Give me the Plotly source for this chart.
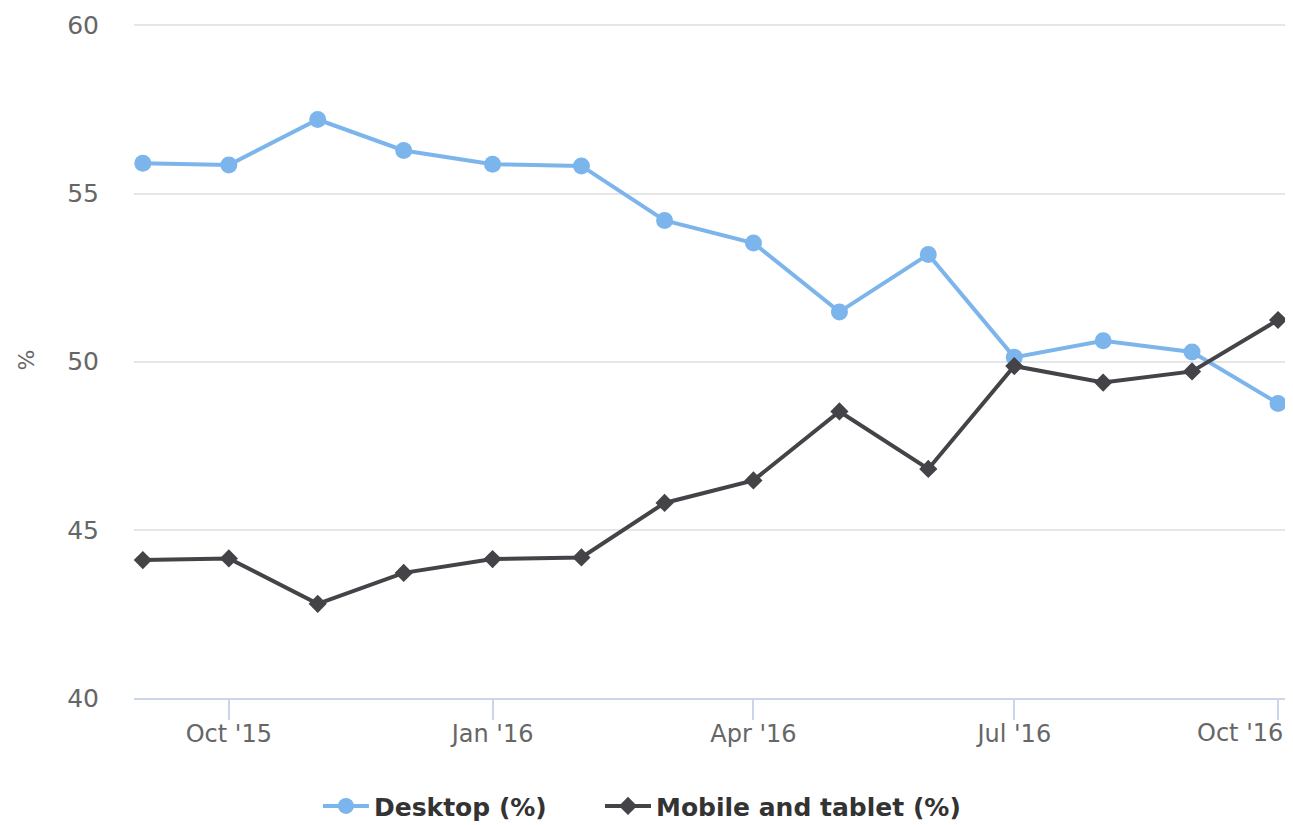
import plotly.graph_objects as go

months = ["2015-09-01", "2015-10-01", "2015-11-01", "2015-12-01", "2016-01-01",
          "2016-02-01", "2016-03-01", "2016-04-01", "2016-05-01", "2016-06-01",
          "2016-07-01", "2016-08-01", "2016-09-01", "2016-10-01"]
desktop = [55.9, 55.85, 57.2, 56.28, 55.87, 55.82, 54.2, 53.53, 51.48, 53.19,
           50.13, 50.62, 50.29, 48.76]
mobile = [44.1, 44.15, 42.8, 43.72, 44.13, 44.18, 45.8, 46.47, 48.52, 46.81,
          49.87, 49.38, 49.71, 51.24]
tick_dates = ["2015-10-01", "2016-01-01", "2016-04-01", "2016-07-01", "2016-10-01"]
tick_labels = ["Oct '15", "Jan '16", "Apr '16", "Jul '16", "Oct '16"]

FONT = "DejaVu Sans"
# the last label is drawn as an annotation pushed left to stay inside the chart
tick_text = tick_labels[:-1] + [""]

fig = go.Figure()
fig.add_trace(go.Scatter(
    x=months, y=desktop, name="Desktop (%)", mode="lines+markers",
    line=dict(color="#7cb5ec", width=4),
    marker=dict(symbol="circle", size=17, color="#7cb5ec"),
    cliponaxis=False, legend="legend",
))
fig.add_trace(go.Scatter(
    x=months, y=mobile, name="Mobile and tablet (%)", mode="lines+markers",
    line=dict(color="#434348", width=4),
    marker=dict(symbol="diamond", size=14, color="#434348"),
    cliponaxis=False, legend="legend2",
))

fig.add_annotation(
    x=tick_dates[-1], xref="x", y=0, yref="paper",
    text=tick_labels[-1], showarrow=False,
    xanchor="right", xshift=7, yanchor="middle", yshift=-35,
    font=dict(family=FONT, size=24, color="#666666"),
)

legend_common = dict(
    orientation="h", xref="container", yref="container",
    xanchor="left", y=0.023, yanchor="middle", itemwidth=46,
    font=dict(family=FONT, size=25, color="#333333", weight="bold"),
)

fig.update_layout(
    width=1285, height=817,
    margin=dict(l=126, r=1, t=14, b=127),
    paper_bgcolor="white", plot_bgcolor="white",
    font=dict(family=FONT, color="#666666"),
    showlegend=True,
    legend=dict(x=0.2412, **legend_common),
    legend2=dict(x=0.4607, **legend_common),
    xaxis=dict(
        type="date",
        range=["2015-08-28 22:00", "2016-10-05 21:00"],
        tickvals=tick_dates, ticktext=tick_text,
        showgrid=False, zeroline=False,
        showline=True, linecolor="#ccd6eb", linewidth=2,
        ticks="outside", ticklen=20, tickwidth=2, tickcolor="#ccd6eb",
        ticklabelstandoff=-7,
        tickfont=dict(family=FONT, size=24, color="#666666"),
    ),
    yaxis=dict(
        range=[40, 60.1], tickvals=[40, 45, 50, 55, 60],
        showgrid=True, gridcolor="#e6e6e6", gridwidth=2,
        zeroline=False, showline=False,
        ticks="", ticklabelstandoff=34,
        tickfont=dict(family=FONT, size=25, color="#666666"),
        title=dict(text="%", standoff=26,
                   font=dict(family=FONT, size=22, color="#666666")),
    ),
)

fig.write_html("out.html")
